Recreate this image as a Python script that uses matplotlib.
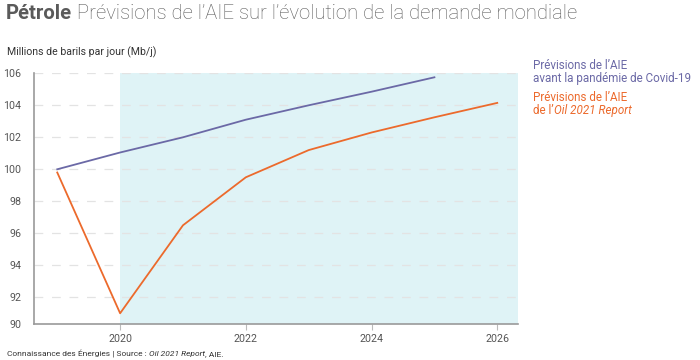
import matplotlib
matplotlib.use("Agg")
import matplotlib.pyplot as plt

plt.rcParams['font.family'] = ['Roboto', 'DejaVu Sans']

years_pre = [2019, 2020, 2021, 2022, 2023, 2024, 2025]
demand_pre = [100.0, 101.05, 102.0, 103.1, 104.0, 104.85, 105.75]
years_2021 = [2019, 2020, 2021, 2022, 2023, 2024, 2025, 2026]
demand_2021 = [99.8, 91.0, 96.5, 99.5, 101.2, 102.3, 103.25, 104.15]
xticks = [2020, 2022, 2024, 2026]
yticks = [92, 94, 96, 98, 100, 102, 104, 106]
shade_start = 2020

c_pre = '#6b69a6'
c_new = '#ec6a2c'
c_text = '#555555'

fig = plt.figure(figsize=(7, 3.6), dpi=100)
ax = fig.add_axes([34/700, 1-324/360, (518-34)/700, (324-73.3)/360])
x0, x1 = 2018.63, 2026.33
ax.set_xlim(x0, x1)
ax.set_ylim(90.33, 106)

ax.axvspan(shade_start, x1, color='#dff3f6', zorder=0, lw=0)
for y in yticks:
    ax.axhline(y, color='#e3e3e3', lw=0.9, dashes=(7, 7), zorder=1)

ax.plot(years_pre, demand_pre, color=c_pre, lw=1.3, zorder=3)
ax.plot(years_2021, demand_2021, color=c_new, lw=1.3, zorder=3)

ax.set_xticks(xticks)
ax.set_xticklabels([str(t) for t in xticks])
ax.set_yticks([90.33] + yticks)
ax.set_yticklabels(['90'] + [str(t) for t in yticks])
ax.tick_params(axis='y', length=0, labelsize=7.7, labelcolor=c_text, pad=9)
ax.tick_params(axis='x', length=4, width=0.8, color='#bbbbbb', labelsize=7.7, labelcolor=c_text, pad=3, direction='out')
for s in ['top', 'right']:
    ax.spines[s].set_visible(False)
for s in ['left', 'bottom']:
    ax.spines[s].set_color('#9a9a9a')
    ax.spines[s].set_linewidth(1.2)

fig.canvas.draw()
r = fig.canvas.get_renderer()

def seq(parts, x, y, **kw):
    """Draw consecutive text parts in figure pixel coords."""
    for txt, props in parts:
        p = dict(kw)
        p.update(props)
        t = fig.text(x/700, 1-y/360, txt, va='baseline', ha='left', **p)
        bb = t.get_window_extent(renderer=r)
        x += bb.width
    return x

# Title
seq([("Pétrole", dict(fontweight='bold')),
     (" Prévisions de l’AIE sur l’évolution de la demande mondiale", dict(fontweight='light'))],
    6, 19, fontsize=14.6, color='#5a5a5a')

fig.text(7/700, 1-55/360, "Millions de barils par jour (Mb/j)", fontsize=7.6, color='#333333', va='baseline')

# Legend
lfs = 8.4
fig.text(533/700, 1-69/360, "Prévisions de l’AIE", fontsize=lfs, color=c_pre, va='baseline')
fig.text(533/700, 1-82/360, "avant la pandémie de Covid-19", fontsize=lfs, color=c_pre, va='baseline')
fig.text(533/700, 1-101/360, "Prévisions de l’AIE", fontsize=lfs, color=c_new, va='baseline')
seq([("de l’", dict()), ("Oil 2021 Report", dict(fontstyle='italic'))], 533, 114, fontsize=lfs, color=c_new)

# Footer
seq([("Connaissance des Énergies | Source : ", dict()),
     ("Oil 2021 Report", dict(fontstyle='italic')),
     (", AIE.", dict())], 7, 356, fontsize=6.0, color='#333333')

fig.savefig("out.png", dpi=100)
